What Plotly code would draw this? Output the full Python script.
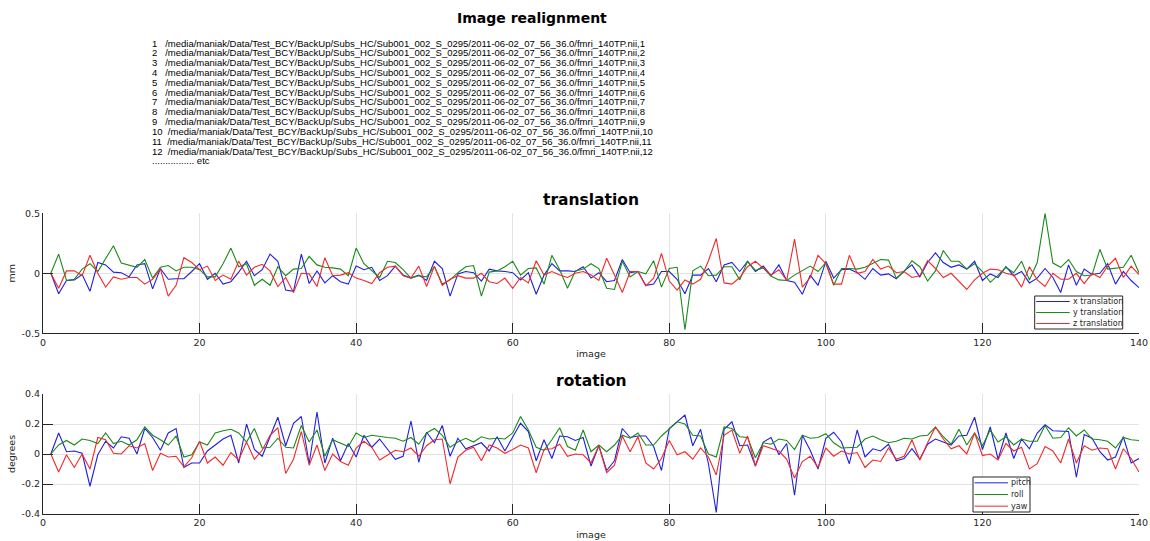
import plotly.graph_objects as go

# ---- realignment parameters per image (1..140) ----
image = list(range(1, 141))

x_translation = [
    0, -0.17, -0.06, -0.055, -0.01, -0.15, 0.09, 0.07, 0.01, 0.005,
    -0.03, 0.07, 0.08, -0.13, 0.04, -0.05, -0.045, -0.045, 0.015, 0.08,
    -0.05, 0, -0.09, -0.07, 0.01, 0.1, -0.02, 0.03, 0.16, 0.1,
    -0.14, -0.15, 0.16, -0.085, 0.02, -0.08, -0.02, -0.07, -0.09, 0.06,
    0.03, 0.05, -0.06, -0.02, 0.06, -0.015, -0.04, -0.015, -0.06, 0.1,
    0.04, -0.19, -0.005, 0.015, 0.005, -0.065, 0.035, 0.02, 0.015, 0.005,
    -0.055, 0.005, -0.175, -0.015, 0.08, 0.02, 0.02, 0.015, 0.055, -0.04,
    0.005, -0.07, -0.06, 0.115, 0.005, 0.015, -0.1, -0.09, 0.015, 0.015,
    -0.05, -0.17, -0.015, -0.015, 0.04, -0.07, 0.07, 0.09, 0.015, 0.1,
    0.015, 0.06, -0.02, 0.07, -0.06, -0.075, -0.175, -0.015, -0.1, 0.1,
    -0.04, 0.03, 0.035, 0.005, -0.05, 0.04, -0.015, -0.005, -0.045, 0.02,
    0.07, -0.03, 0.09, 0.17, 0.09, 0.05, 0.07, 0.035, 0.1, -0.06,
    -0.005, -0.035, 0.055, -0.02, 0.015, -0.08, -0.04, 0.04, -0.035, -0.16,
    0.07, -0.1, 0.035, -0.01, 0, 0.08, -0.09, 0.015, -0.06, -0.12,
]

y_translation = [
    0, 0.16, -0.06, -0.05, 0.035, 0.08, 0.015, 0.12, 0.23, 0.085,
    0.07, 0.05, 0.115, -0.04, 0.05, 0.065, 0.02, 0.05, 0.05, 0.03,
    -0.03, -0.03, 0.08, 0.21, 0.055, 0.08, -0.1, -0.05, -0.1, 0.055,
    -0.02, 0.035, 0.04, 0.14, 0.07, 0.05, 0.045, 0.035, -0.02, 0.21,
    0.08, 0.02, -0.035, 0.1, 0.09, 0.03, -0.04, -0.02, -0.03, 0.055,
    -0.09, -0.055, 0.005, 0.055, 0.065, -0.19, 0.01, 0.02, 0.055, 0.1,
    -0.015, 0.04, 0.045, -0.09, 0.15, 0.03, -0.125, 0.02, 0.035, 0.08,
    0.04, -0.125, -0.135, 0.1, -0.03, 0.015, -0.005, 0.105, -0.115, 0.04,
    0.05, -0.47, 0.02, 0.06, -0.02, -0.015, 0.055, 0.055, -0.055, 0.1,
    0.025, 0.045, -0.025, -0.055, -0.06, -0.015, 0.02, 0.06, 0.015, 0.09,
    -0.1, 0.04, 0.04, 0.035, 0.05, 0.08, 0.115, 0.11, -0.04, 0.015,
    0.105, 0.055, -0.065, 0.02, 0.19, 0.1, 0.1, 0.035, 0.08, 0.015,
    -0.075, -0.015, 0.05, 0.005, 0.1, -0.055, 0.09, 0.5, 0.085, 0.05,
    0.115, 0.015, -0.02, -0.015, 0.2, 0.035, 0.04, 0.05, 0.15, 0.005,
]

z_translation = [
    0, -0.125, 0.02, 0.02, -0.02, 0.15, 0, -0.115, -0.03, -0.05,
    -0.035, -0.035, -0.09, -0.05, 0.035, -0.19, -0.1, 0.13, 0.09, 0.03,
    0.06, -0.06, -0.015, -0.05, 0.1, -0.015, 0.05, 0.075, 0.02, -0.11,
    -0.035, -0.16, 0, -0.005, -0.11, 0.13, -0.02, -0.015, 0.005, -0.04,
    -0.06, -0.085, 0.005, 0.05, 0.06, -0.02, -0.04, 0.06, -0.11, 0.06,
    -0.1, -0.05, -0.02, -0.04, -0.04, 0, -0.07, -0.085, -0.04, -0.125,
    -0.035, -0.08, 0.105, -0.015, 0.015, -0.015, -0.035, 0, 0.015, -0.015,
    -0.06, 0.125, -0.015, -0.16, 0.015, 0.015, -0.105, -0.04, 0.165, -0.065,
    -0.14, -0.055, -0.09, -0.05, 0.105, 0.29, -0.08, -0.09, -0.035, 0.055,
    0.1, 0.045, -0.015, 0.03, -0.06, 0.285, -0.115, -0.035, 0.15, 0.08,
    -0.09, -0.09, 0.15, 0, 0.015, 0.115, 0.035, 0.06, 0.005, 0.015,
    -0.035, -0.02, 0.105, 0.04, -0.035, 0, -0.07, -0.135, -0.055, 0,
    0.035, 0.03, 0, -0.015, -0.115, 0.055, -0.055, -0.11, 0, -0.05,
    -0.05, 0, -0.085, 0, -0.035, 0.06, 0.125, -0.035, 0.06, -0.01,
]

pitch = [
    0, 0.14, 0.015, 0.02, 0.005, -0.215, -0.005, 0.085, 0.04, 0.115,
    0.105, 0, 0.17, 0.11, 0.025, 0.14, 0.17, -0.09, -0.06, -0.06,
    0.02, 0.06, 0.1, 0.125, -0.06, 0.2, 0.03, -0.015, 0.115, 0.245,
    0.055, 0.205, 0.25, -0.065, 0.28, -0.06, 0.105, -0.045, 0.07, -0.02,
    0.125, 0.045, 0.1, 0.03, -0.035, -0.015, 0.22, -0.055, 0.145, 0.075,
    0.19, -0.015, 0.105, 0.035, 0.055, 0.075, 0.02, 0.115, 0.02, 0.115,
    0.205, 0.15, -0.045, 0.095, -0.03, 0.12, 0.115, 0.09, 0.11, -0.08,
    0.055, -0.11, -0.045, 0.17, 0.11, 0.12, 0.12, 0.05, -0.11, 0.17,
    0.215, 0.26, 0.055, 0.165, -0.065, -0.39, 0.165, 0.215, 0.055, 0.06,
    -0.08, 0.08, 0.11, -0.005, 0.07, -0.275, 0.125, 0.025, -0.1, 0.105,
    0.145, 0.08, -0.065, 0.16, -0.02, 0.035, 0.02, 0.065, -0.045, -0.03,
    0.035, -0.035, 0.065, 0.1, 0.08, 0.06, 0.12, 0.125, 0.245, 0.03,
    0.18, -0.035, 0.14, -0.03, 0.1, 0.035, 0.14, 0.195, 0.155, 0.155,
    0.15, -0.155, 0.13, 0.105, 0.015, -0.04, -0.02, 0.115, -0.06, -0.03,
]

roll = [
    0, 0.06, 0.09, 0.06, 0.1, 0.09, 0.07, 0.14, 0.07, 0.085,
    0.06, 0.095, 0.18, 0.125, 0.095, 0.06, 0.12, -0.02, -0.005, 0.08,
    0.06, 0.14, 0.155, 0.165, 0.14, 0.08, 0.17, 0.04, 0.045, 0.105,
    0.045, 0.04, 0.19, 0.08, 0.16, -0.015, 0.095, 0.075, 0.05, 0.14,
    0.11, 0.125, 0.115, 0.11, 0.105, 0.085, 0.11, 0.065, 0.14, 0.17,
    0.125, 0.045, 0.08, 0.105, 0.08, 0.115, 0.1, 0.105, 0.1, 0.14,
    0.25, 0.16, 0.045, 0.025, 0.095, 0.175, 0.05, 0.025, 0.16, 0.015,
    0.06, 0.015, 0.06, 0.125, 0.105, 0.14, 0.06, 0.06, 0.12, 0.17,
    0.215, 0.2, 0.125, 0.12, 0, -0.02, 0.18, 0.17, 0.115, 0.11,
    -0.025, 0.075, 0.065, 0.1, 0.09, 0.03, 0.125, 0.105, 0.11, 0.135,
    0.075, 0.04, 0.04, 0.045, 0.1, 0.12, 0.095, 0.075, 0.085, 0.105,
    0.1, 0.12, 0.125, 0.18, 0.115, 0.065, 0.165, 0.06, 0.14, 0.055,
    0.16, 0.08, 0.115, 0.06, 0.1, 0.085, 0.085, 0.19, 0.105, 0.11,
    0.175, 0.12, 0.16, 0.1, 0.095, 0.085, 0.04, 0.11, 0.095, 0.09,
]

yaw = [
    0, -0.12, -0.005, -0.09, 0, -0.1, 0.11, 0.095, 0.005, 0,
    0.055, 0.04, 0.07, -0.11, 0.005, -0.02, -0.015, -0.085, -0.025, 0.085,
    -0.06, -0.02, -0.075, 0.01, -0.04, 0.08, -0.035, 0.025, 0.125, 0.175,
    -0.13, -0.035, 0.15, -0.075, 0.06, -0.11, 0, -0.05, -0.075, 0.04,
    0.085, 0.045, -0.04, -0.005, 0.025, 0.015, 0.04, -0.015, 0.055, 0.095,
    0.1, -0.2, -0.02, 0.025, 0.045, -0.045, 0.06, 0.04, 0.005, 0.03,
    0.06, 0.04, -0.125, 0.03, 0.035, 0.065, -0.015, 0, -0.005, -0.06,
    0.055, -0.125, -0.075, 0.12, 0.015, 0.115, -0.06, -0.1, -0.03, 0.09,
    -0.005, 0.015, -0.035, 0.04, -0.02, -0.14, 0.125, 0.16, 0.005, 0.12,
    -0.08, 0.055, 0.04, 0.02, -0.035, -0.16, -0.05, -0.015, -0.09, 0.04,
    -0.015, 0.02, 0, 0.01, -0.09, -0.04, -0.05, 0.04, -0.035, -0.015,
    0.095, -0.04, 0.075, 0.18, 0.1, 0.035, 0.055, 0, 0.14, -0.01,
    0, -0.04, 0.07, 0.02, 0.045, -0.1, -0.065, 0.05, 0.02, -0.06,
    0.1, -0.06, 0.055, 0.025, 0.04, 0.035, -0.1, 0.035, -0.03, -0.12,
]

translation_names = ["x translation", "y translation", "z translation"]
rotation_names = ["pitch", "roll", "yaw"]
series_colors = ["#1f1fe0", "#1a8a1a", "#f02a2a"]

x_ticks = [0, 20, 40, 60, 80, 100, 120, 140]
trans_ticks = [-0.5, 0, 0.5]
trans_ticktext = ["-0.5", "0", "0.5"]
rot_ticks = [-0.4, -0.2, 0, 0.2, 0.4]
rot_ticktext = ["-0.4", "-0.2", "0", "0.2", "0.4"]

scan_path = "/media/maniak/Data/Test_BCY/BackUp/Subs_HC/Sub001_002_S_0295/2011-06-02_07_56_36.0/fmri_140TP.nii"
n_listed = 12

# ---- style ----
AX = "#262626"
GRID = "#e3e3e3"
FONT = "DejaVu Sans"
W, H = 1150, 541
ML, MR = 43, 11

fig = go.Figure()

for vals, name, col in zip([x_translation, y_translation, z_translation],
                           translation_names, series_colors):
    fig.add_trace(go.Scatter(x=image, y=vals, mode="lines", name=name,
                             line=dict(color=col, width=1.1),
                             xaxis="x", yaxis="y", showlegend=False))

for vals, name, col in zip([pitch, roll, yaw], rotation_names, series_colors):
    fig.add_trace(go.Scatter(x=image, y=vals, mode="lines", name=name,
                             line=dict(color=col, width=1.1),
                             xaxis="x2", yaxis="y2", showlegend=False))

axis_common = dict(
    showline=True, linecolor=AX, linewidth=1,
    ticks="inside", ticklen=10, tickcolor=AX, tickwidth=1,
    showgrid=True, gridcolor=GRID, gridwidth=1,
    zeroline=False, automargin=False,
    tickfont=dict(family=FONT, size=9.5, color=AX),
)


def fx(p):
    # pixel column -> paper fraction (paper spans the plotting area)
    return (p - ML) / (W - ML - MR)


def fy(p):
    # pixel row (from top) -> paper fraction
    return 1 - p / H


xa = dict(axis_common, range=[0, 140], tickvals=x_ticks,
          title=dict(text="image", font=dict(family=FONT, size=9.5, color=AX), standoff=3))

fig.update_layout(
    width=W, height=H,
    margin=dict(l=ML, r=MR, t=0, b=0),
    paper_bgcolor="white", plot_bgcolor="white",
    showlegend=False,
    xaxis=dict(xa, anchor="y"),
    yaxis=dict(axis_common, range=[-0.5, 0.5], tickvals=trans_ticks, ticktext=trans_ticktext,
               domain=[fy(333.3), fy(213.3)], anchor="x",
               title=dict(text="mm", font=dict(family=FONT, size=9.5, color=AX), standoff=4)),
    xaxis2=dict(xa, anchor="y2"),
    yaxis2=dict(axis_common, range=[-0.4, 0.4], tickvals=rot_ticks, ticktext=rot_ticktext,
                domain=[fy(514), fy(394)], anchor="x2",
                title=dict(text="degrees", font=dict(family=FONT, size=9.5, color=AX), standoff=4)),
)

annotations = []
shapes = []

# main and panel titles
annotations.append(dict(text="<b>Image realignment</b>", x=fx(532), y=fy(18),
                        xref="paper", yref="paper", xanchor="center", yanchor="middle",
                        showarrow=False, font=dict(family=FONT, size=14, color="black")))
annotations.append(dict(text="<b>translation</b>", x=0.5, y=fy(200),
                        xref="paper", yref="paper", xanchor="center", yanchor="middle",
                        showarrow=False, font=dict(family=FONT, size=15.5, color="black")))
annotations.append(dict(text="<b>rotation</b>", x=0.5, y=fy(381),
                        xref="paper", yref="paper", xanchor="center", yanchor="middle",
                        showarrow=False, font=dict(family=FONT, size=15.5, color="black")))

# list of realigned volumes
line_step = 9.82
list_font = dict(family="Liberation Sans", size=9.5, color="black")
for i in range(1, n_listed + 1):
    gap = "\u00a0" * (3 if i < 10 else 2)
    annotations.append(dict(text=f"{i}{gap}{scan_path},{i}", x=fx(150),
                            y=fy(43 + line_step * (i - 1)),
                            xref="paper", yref="paper", xanchor="left", yanchor="middle",
                            showarrow=False, font=list_font))
annotations.append(dict(text="................ etc", x=fx(150),
                        y=fy(43 + line_step * n_listed),
                        xref="paper", yref="paper", xanchor="left", yanchor="middle",
                        showarrow=False, font=list_font))


# boxed legends in the lower-right corner of each panel
def add_legend(names, left, top, right, bottom):
    shapes.append(dict(type="rect", xref="paper", yref="paper",
                       x0=fx(left), x1=fx(right), y0=fy(bottom), y1=fy(top),
                       line=dict(color=AX, width=1), fillcolor="white", layer="above"))
    step = (bottom - top) / len(names)
    for k, (nm, col) in enumerate(zip(names, series_colors)):
        yc = top + step * (k + 0.5)
        shapes.append(dict(type="line", xref="paper", yref="paper",
                           x0=fx(left + 1.5), x1=fx(left + 35), y0=fy(yc), y1=fy(yc),
                           line=dict(color=col, width=1), layer="above"))
        annotations.append(dict(text=nm, x=fx(left + 36), y=fy(yc),
                                xref="paper", yref="paper", xanchor="left", yanchor="middle",
                                showarrow=False, font=dict(family=FONT, size=8, color=AX)))


add_legend(translation_names, 1034.7, 296, 1122.7, 329)
add_legend(rotation_names, 973, 477, 1030, 512)

fig.update_layout(annotations=annotations, shapes=shapes)

fig.write_html("out.html")
